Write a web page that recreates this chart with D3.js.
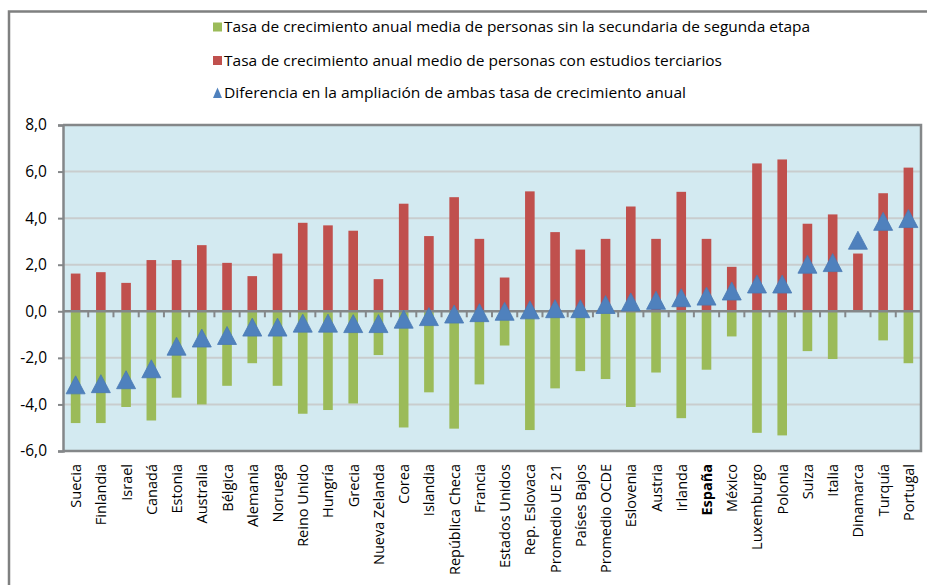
<!DOCTYPE html>
<html>
<head>
<meta charset="utf-8">
<script src="https://cdn.jsdelivr.net/npm/d3@7"></script>
<style>
  body { margin: 0; background: #fff; }
  svg { display: block; font-family: "Open Sans", sans-serif; }
</style>
</head>
<body>
<div id="chart"></div>
<script>
// Categories (countries / averages)
const categories = ['Suecia', 'Finlandia', 'Israel', 'Canadá', 'Estonia', 'Australia', 'Bélgica',
  'Alemania', 'Noruega', 'Reino Unido', 'Hungría', 'Grecia', 'Nueva Zelanda', 'Corea', 'Islandia',
  'República Checa', 'Francia', 'Estados Unidos', 'Rep. Eslovaca', 'Promedio UE 21', 'Países Bajos',
  'Promedio OCDE', 'Eslovenia', 'Austria', 'Irlanda', 'España', 'México', 'Luxemburgo', 'Polonia',
  'Suiza', 'Italia', 'Dinamarca', 'Turquía', 'Portugal'];

// Tasa de crecimiento anual media de personas sin la secundaria de segunda etapa
const sinSecundaria = [-4.80, -4.80, -4.11, -4.69, -3.71, -4.00, -3.20, -2.23, -3.20, -4.40,
  -4.24, -3.96, -1.88, -4.99, -3.48, -5.04, -3.14, -1.47, -5.10, -3.31, -2.57, -2.91, -4.11,
  -2.63, -4.59, -2.51, -1.08, -5.22, -5.33, -1.71, -2.05, 0, -1.25, -2.23];

// Tasa de crecimiento anual medio de personas con estudios terciarios
const terciarios = [1.62, 1.68, 1.22, 2.20, 2.20, 2.84, 2.08, 1.51, 2.48, 3.80, 3.69, 3.46, 1.38,
  4.62, 3.23, 4.90, 3.11, 1.45, 5.15, 3.40, 2.65, 3.11, 4.50, 3.11, 5.13, 3.11, 1.91, 6.35, 6.52,
  3.76, 4.16, 2.48, 5.07, 6.17];

// Diferencia en la ampliación de ambas tasa de crecimiento anual
const diferencia = [-3.18, -3.13, -2.96, -2.49, -1.52, -1.17, -1.06, -0.70, -0.70, -0.53, -0.53,
  -0.55, -0.55, -0.36, -0.25, -0.14, -0.08, -0.02, 0.04, 0.09, 0.09, 0.27, 0.38, 0.45, 0.56, 0.63,
  0.85, 1.15, 1.15, 2.00, 2.07, 3.03, 3.84, 3.96];

const yTicks = [-6, -4, -2, 0, 2, 4, 6, 8];

const legendLabels = [
  'Tasa de crecimiento anual media de personas sin la secundaria de segunda etapa',
  'Tasa de crecimiento anual medio de personas con estudios terciarios',
  'Diferencia en la ampliación de ambas tasa de crecimiento anual'
];

const colors = { green: '#9BBB59', red: '#C0504D', blue: '#4F81BD' };

const W = 927, H = 585;
const plot = { left: 63, right: 921, top: 125, bottom: 451 };

const svg = d3.select('#chart').append('svg')
  .attr('width', W)
  .attr('height', H);

// outer frame (continues past the window on the right and bottom)
svg.append('path')
  .attr('d', `M9,${H + 5} L9,11.5 L${W + 5},11.5`)
  .attr('fill', 'none')
  .attr('stroke', '#7f8080')
  .attr('stroke-width', 2.5);

const x = d3.scaleBand()
  .domain(categories)
  .range([plot.left, plot.right])
  .paddingInner(0)
  .paddingOuter(0);

const y = d3.scaleLinear()
  .domain([-6, 8])
  .range([plot.bottom, plot.top]);

const locale = d3.formatLocale({ decimal: ',', thousands: '.', grouping: [3], currency: ['', '€'], minus: '-' });
const fmt = locale.format('.1f');

// plot background
svg.append('rect')
  .attr('x', plot.left)
  .attr('y', plot.top)
  .attr('width', plot.right - plot.left)
  .attr('height', plot.bottom - plot.top)
  .attr('fill', '#D3EAF1');

// gridlines
svg.append('g')
  .selectAll('line')
  .data(yTicks.filter(d => d !== 0 && d !== -6 && d !== 8))
  .enter()
  .append('line')
  .attr('x1', plot.left)
  .attr('x2', plot.right)
  .attr('y1', d => y(d))
  .attr('y2', d => y(d))
  .attr('stroke', '#C9CDCE')
  .attr('stroke-width', 2);

const barW = x.bandwidth() * 0.38;

// green bars (negative)
svg.append('g')
  .selectAll('rect')
  .data(categories.map((c, i) => ({ c, v: sinSecundaria[i] })))
  .enter()
  .append('rect')
  .attr('x', d => x(d.c) + (x.bandwidth() - barW) / 2)
  .attr('y', d => Math.min(y(0), y(d.v)))
  .attr('width', barW)
  .attr('height', d => Math.abs(y(d.v) - y(0)))
  .attr('fill', colors.green);

// red bars (positive)
svg.append('g')
  .selectAll('rect')
  .data(categories.map((c, i) => ({ c, v: terciarios[i] })))
  .enter()
  .append('rect')
  .attr('x', d => x(d.c) + (x.bandwidth() - barW) / 2)
  .attr('y', d => Math.min(y(0), y(d.v)))
  .attr('width', barW)
  .attr('height', d => Math.abs(y(d.v) - y(0)))
  .attr('fill', colors.red);

// plot border (top, right, bottom)
svg.append('path')
  .attr('d', `M${plot.left},${plot.top} L${plot.right},${plot.top} L${plot.right},${plot.bottom} L${plot.left},${plot.bottom}`)
  .attr('fill', 'none')
  .attr('stroke', '#848789')
  .attr('stroke-width', 2.5);

// y axis
const yAxis = svg.append('g')
  .attr('transform', `translate(${plot.left},0)`)
  .call(d3.axisLeft(y).tickValues(yTicks).tickFormat(fmt).tickSize(5).tickPadding(11));
yAxis.select('.domain').attr('stroke', '#848789').attr('stroke-width', 2.5);
yAxis.selectAll('.tick line').attr('stroke', '#848789').attr('stroke-width', 2);
yAxis.selectAll('.tick text')
  .attr('fill', '#000')
  .style('font-size', '15.5px')
  .style('font-family', '"Open Sans", sans-serif');

// x axis at zero, ticks between categories
const xAxis = svg.append('g')
  .attr('transform', `translate(0,${y(0)})`);
xAxis.append('line')
  .attr('x1', plot.left)
  .attr('x2', plot.right)
  .attr('stroke', '#848789')
  .attr('stroke-width', 2.5);
xAxis.selectAll('.sep')
  .data(categories.slice(1))
  .enter()
  .append('line')
  .attr('class', 'sep')
  .attr('x1', d => x(d))
  .attr('x2', d => x(d))
  .attr('y1', 0)
  .attr('y2', 6)
  .attr('stroke', '#848789')
  .attr('stroke-width', 2);

// category labels under the plot
svg.append('g')
  .selectAll('text')
  .data(categories)
  .enter()
  .append('text')
  .attr('transform', d => `translate(${x(d) + x.bandwidth() / 2 + 5.5},${plot.bottom + 13}) rotate(-90)`)
  .attr('text-anchor', 'end')
  .style('font-size', '14.5px')
  .style('font-weight', d => d === 'España' ? 'bold' : 'normal')
  .text(d => d);

// triangles
const tri = 'M0,-9.5 L9.5,8.5 L-9.5,8.5 Z';
svg.append('g')
  .selectAll('path')
  .data(categories.map((c, i) => ({ c, v: diferencia[i] })))
  .enter()
  .append('path')
  .attr('d', tri)
  .attr('transform', d => `translate(${x(d.c) + x.bandwidth() / 2},${y(d.v)})`)
  .attr('fill', colors.blue)
  .attr('stroke', '#4A7AB4')
  .attr('stroke-width', 0.8);

// legend
const legend = svg.append('g')
  .attr('transform', 'translate(213,0)');
const legendY = [27, 60.5, 93];
const legendEnds = [810, 722, 686];

legendLabels.forEach((label, i) => {
  const g = legend.append('g').attr('transform', `translate(0,${legendY[i]})`);
  if (i < 2) {
    g.append('rect')
      .attr('x', 0)
      .attr('y', -4.5)
      .attr('width', 9)
      .attr('height', 9)
      .attr('fill', i === 0 ? colors.green : colors.red);
  } else {
    g.append('path')
      .attr('d', 'M4.5,-5.5 L9,5 L0,5 Z')
      .attr('fill', colors.blue);
  }
  g.append('text')
    .attr('x', 11)
    .attr('y', 5)
    .attr('textLength', legendEnds[i] - 224)
    .attr('lengthAdjust', 'spacingAndGlyphs')
    .style('font-size', '14px')
    .text(label);
});
</script>
</body>
</html>
